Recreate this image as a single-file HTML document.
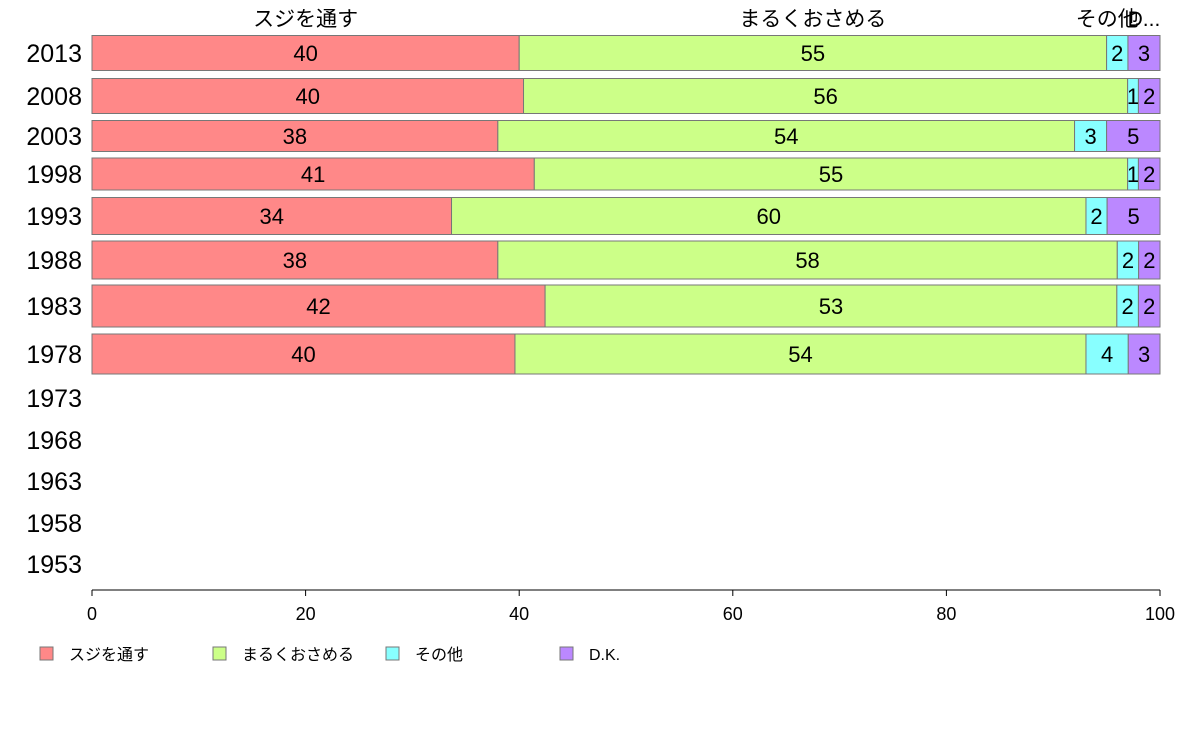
<!DOCTYPE html>
<html><head><meta charset="utf-8">
<style>
html,body{margin:0;padding:0;background:#fff;}
svg{display:block;font-family:"Liberation Sans","Noto Sans CJK JP",sans-serif;}
</style></head>
<body>
<svg id="chart" width="1188" height="736" viewBox="0 0 1188 736"></svg>
<script>
const categories = ["スジを通す","まるくおさめる","その他","D.K."];
const colors = ["#ff8888","#ccff88","#88ffff","#bb88ff"];
const years = ["2013","2008","2003","1998","1993","1988","1983","1978","1973","1968","1963","1958","1953"];
const sujiValues = [40,40,38,41,34,38,42,40,null,null,null,null,null];
const maruValues = [55,56,54,55,60,58,53,54,null,null,null,null,null];
const otherValues = [2,1,3,1,2,2,2,4,null,null,null,null,null];
const dkValues = [3,2,5,2,5,2,2,3,null,null,null,null,null];
const sampleWeights = [35,35,31,32,37,38,42,40,0,0,0,0,0];
const xTicks = [0,20,40,60,80,100];

const NS="http://www.w3.org/2000/svg";
const svg=document.getElementById('chart');
const x0=92,x1=1160;
const xs=v=>x0+(x1-x0)*v/100;
const rowCenters=[53,96,136,174,216,260,306,354,398,440,481,523,564];
const yc=i=>rowCenters[i];
function mk(tag,attrs,text){const e=document.createElementNS(NS,tag);for(const k in attrs)e.setAttribute(k,attrs[k]);if(text!=null)e.textContent=text;svg.appendChild(e);return e;}

const series=[sujiValues,maruValues,otherValues,dkValues];
years.forEach((y,i)=>{
  const t=mk('text',{x:82,y:yc(i)+9,'text-anchor':'end','font-size':25,fill:'#000'},y);
  
  
  if(sujiValues[i]==null)return;
  const tot=series.reduce((s,a)=>s+a[i],0);
  const h=sampleWeights[i];
  let acc=0;
  series.forEach((arr,k)=>{
    const v=arr[i];
    const a=xs(acc/tot*100),b=xs((acc+v)/tot*100);
    const r=mk('rect',{x:a,y:yc(i)-h/2,width:b-a,height:h,fill:colors[k],stroke:'#777','stroke-width':1});
    
    
    const lt=mk('text',{x:(a+b)/2,y:yc(i)+8,'text-anchor':'middle','font-size':22,fill:'#000'},String(v));
    
    
    if(i===0){
      let name=categories[k];
      if(k===3)name="D...";
      const ht=mk('text',{x:(a+b)/2+(k===2?-10:(k===3?0:0)),y:26,'text-anchor':'middle','font-size':21,fill:'#000'},name);
      
      
    }
    acc+=v;
  });
});
const ax=mk('line',{x1:x0,y1:590,x2:x1,y2:590,stroke:'#000','stroke-width':1});


xTicks.forEach(t=>{
  const tk=mk('line',{x1:xs(t),y1:590,x2:xs(t),y2:596,stroke:'#000'});
  
  
  const tl=mk('text',{x:xs(t),y:620,'text-anchor':'middle','font-size':18,fill:'#000'},String(t));
  
  
});
const legX=[40,213,386,560];
categories.forEach((c,k)=>{
  const r=mk('rect',{x:legX[k],y:647,width:13,height:13,fill:colors[k],stroke:'#777'});
  
  
  const t=mk('text',{x:legX[k]+29,y:660,'font-size':16,fill:'#000'},c);
  
  
});
</script>
</body></html>
